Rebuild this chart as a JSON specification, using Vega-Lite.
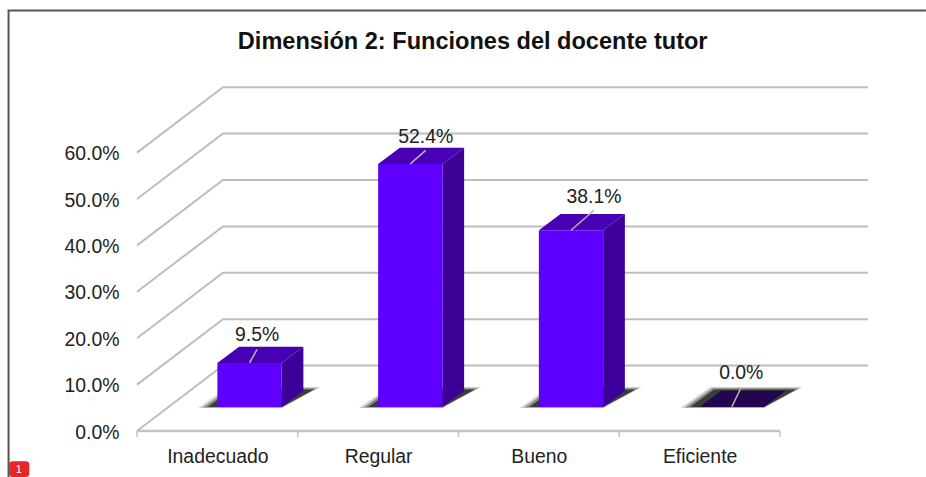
{
"$schema":"https://vega.github.io/schema/vega-lite/v6.json",
"autosize":{"type":"none"},
"padding":{"left":137,"top":87.64,"right":57.6,"bottom":46},
"width":731.4,"height":343.36,
"background":"#ffffff",
"config":{"view":{"stroke":null},"font":"Liberation Sans"},
"title":{"text":"Dimensión 2: Funciones del docente tutor","font":"Liberation Sans","fontSize":23.55,"fontWeight":"bold","color":"#111111","anchor":"middle","frame":"group","dx":-30,"offset":-47},
"datasets":{
"bars":[{"cat":"Inadecuado","i":0,"value":9.5},{"cat":"Regular","i":1,"value":52.4},{"cat":"Bueno","i":2,"value":38.1},{"cat":"Eficiente","i":3,"value":0.0}],
"levels":[{"level":0},{"level":10},{"level":20},{"level":30},{"level":40},{"level":50},{"level":60}],
"ticks":[{"t":0},{"t":1},{"t":2},{"t":3},{"t":4}]
},
"encoding":{
"x":{"field":"x","type":"quantitative","scale":{"domain":[0,4.55],"nice":false,"zero":false},"title":null,
"axis":{"values":[0.5,1.5,2.5,3.5],"labelExpr":"['Inadecuado','Regular','Bueno','Eficiente'][floor(datum.value)]","ticks":false,"domain":false,"grid":false,"labelFontSize":19.4,"labelFont":"Liberation Sans","labelColor":"#222222","labelPadding":16,"title":null}},
"y":{"field":"y","type":"quantitative","scale":{"domain":[0,74],"nice":false,"zero":false},"title":null,
"axis":{"values":[0,10,20,30,40,50,60],"labelExpr":"format(datum.value,'.1f')+'%'","ticks":false,"domain":false,"grid":false,"labelFontSize":19.4,"labelFont":"Liberation Sans","labelColor":"#222222","labelPadding":18,"labelOffset":1,"title":null}}
},
"layer":[
{"data":{"name":"levels"},
 "transform":[{"calculate":"[0,0.535,4.547]","as":"xs"},{"calculate":"[datum.level,datum.level+14.1,datum.level+14.1]","as":"ys"},{"flatten":["xs","ys"],"as":["x","y"]}],
 "mark":{"type":"line","color":"#bdbdbd","strokeWidth":2,"clip":false},
 "encoding":{"detail":{"field":"level"}}},
{"data":{"values":[{"x":0,"y":0},{"x":4,"y":0}]},
 "mark":{"type":"line","color":"#c4c4c4","strokeWidth":2.5,"clip":false}},
{"data":{"name":"ticks"},
 "transform":[{"calculate":"datum.t","as":"x"},{"calculate":"0","as":"y"},{"calculate":"-1.3","as":"y2"}],
 "mark":{"type":"rule","color":"#c4c4c4","strokeWidth":1.5,"clip":false},
 "encoding":{"y2":{"field":"y2"}}},
{"data":{"name":"bars"},
 "transform":[{"calculate":"datum.i+0.5","as":"x0"},
 {"calculate":"[datum.x0-0.118,datum.x0+0.068,datum.x0+0.4,datum.x0+0.64]","as":"xs"},
 {"calculate":"[4.96,4.96,4.96,9.48]","as":"lo"},{"calculate":"[4.96,9.48,9.48,9.48]","as":"hi"},
 {"flatten":["xs","lo","hi"],"as":["x","y","y2"]}],
 "mark":{"type":"area","orient":"vertical","color":"#bbbbbb","opacity":0.7,"clip":false},
 "encoding":{"y2":{"field":"y2"},"detail":{"field":"cat"}}},
{"data":{"name":"bars"},
 "transform":[{"calculate":"datum.i+0.5","as":"x0"},
 {"calculate":"[datum.x0-0.09,datum.x0+0.08,datum.x0+0.4,datum.x0+0.62]","as":"xs"},
 {"calculate":"[5.05,5.05,5.05,9.2]","as":"lo"},{"calculate":"[5.05,9.2,9.2,9.2]","as":"hi"},
 {"flatten":["xs","lo","hi"],"as":["x","y","y2"]}],
 "mark":{"type":"area","orient":"vertical","color":"#777777","opacity":0.8,"clip":false},
 "encoding":{"y2":{"field":"y2"},"detail":{"field":"cat"}}},
{"data":{"name":"bars"},
 "transform":[{"calculate":"datum.i+0.5","as":"x0"},
 {"calculate":"[datum.x0-0.06,datum.x0+0.09,datum.x0+0.4,datum.x0+0.6]","as":"xs"},
 {"calculate":"[5.17,5.17,5.17,8.95]","as":"lo"},{"calculate":"[5.17,8.95,8.95,8.95]","as":"hi"},
 {"flatten":["xs","lo","hi"],"as":["x","y","y2"]}],
 "mark":{"type":"area","orient":"vertical","color":"#333333","opacity":0.9,"clip":false},
 "encoding":{"y2":{"field":"y2"},"detail":{"field":"cat"}}},
{"data":{"name":"bars"},
 "transform":[{"calculate":"datum.i+0.9","as":"x1"},{"calculate":"datum.value+5.17","as":"top"},
 {"calculate":"[datum.x1,datum.x1+0.135]","as":"xs"},{"calculate":"[5.17,8.67]","as":"lo"},{"calculate":"[datum.top,datum.top+3.5]","as":"hi"},
 {"flatten":["xs","lo","hi"],"as":["x","y","y2"]}],
 "mark":{"type":"area","orient":"vertical","color":"#3c0098","clip":false},
 "encoding":{"y2":{"field":"y2"},"detail":{"field":"cat"}}},
{"data":{"name":"bars"},
 "transform":[{"calculate":"datum.i+0.5","as":"x0"},{"calculate":"datum.value+5.17","as":"top"},
 {"calculate":"[datum.x0,datum.x0+0.135,datum.x0+0.4,datum.x0+0.535]","as":"xs"},
 {"calculate":"[datum.top,datum.top,datum.top,datum.top+3.5]","as":"lo"},{"calculate":"[datum.top,datum.top+3.5,datum.top+3.5,datum.top+3.5]","as":"hi"},
 {"flatten":["xs","lo","hi"],"as":["x","y","y2"]}],
 "mark":{"type":"area","orient":"vertical","clip":false},
 "encoding":{"y2":{"field":"y2"},"detail":{"field":"cat"},
 "color":{"field":"cat","type":"nominal","legend":null,"scale":{"domain":["Inadecuado","Regular","Bueno","Eficiente"],"range":["#4800b4","#4800b4","#4800b4","#22064f"]}}}},
{"data":{"name":"bars"},
 "transform":[{"calculate":"datum.i+0.5","as":"x"},{"calculate":"datum.i+0.9","as":"x2"},{"calculate":"5.17","as":"y"},{"calculate":"datum.value+5.17","as":"y2"}],
 "mark":{"type":"rect","color":"#5f00ff","clip":false},
 "encoding":{"x2":{"field":"x2"},"y2":{"field":"y2"}}},
{"data":{"name":"bars"},
 "transform":[{"calculate":"datum.i+0.7","as":"xc"},{"calculate":"datum.value+5.17","as":"top"},
 {"calculate":"[datum.xc,datum.xc+[0.047,0.096,0.143,0.059][datum.i]]","as":"xs"},
 {"calculate":"[datum.top,datum.top+[2.9,2.9,4.3,4.3][datum.i]]","as":"ys"},
 {"flatten":["xs","ys"],"as":["x","y"]}],
 "mark":{"type":"line","color":"#b5b5b5","strokeWidth":1.5,"clip":false},
 "encoding":{"detail":{"field":"cat"}}},
{"data":{"name":"bars"},
 "transform":[{"calculate":"datum.i+0.7+[0.047,0.096,0.143,0.059][datum.i]","as":"x"},
 {"calculate":"datum.value+5.17+[6.03,5.82,7.1,7.3][datum.i]","as":"y"},
 {"calculate":"format(datum.value,'.1f')+'%'","as":"label"}],
 "mark":{"type":"text","font":"Liberation Sans","fontSize":19.4,"color":"#222222","align":"center","baseline":"middle","clip":false},
 "encoding":{"text":{"field":"label"}}},
{"data":{"values":[{"x":4.908,"y":90.6},{"x":-0.799,"y":90.6},{"x":-0.799,"y":-10}]},
 "mark":{"type":"line","color":"#555555","strokeWidth":2,"clip":false},
 "encoding":{"order":{"field":"y","sort":"descending"}}},
{"data":{"values":[{"x":-0.795,"x2":-0.67,"y":-6.5,"y2":-9.9}]},
 "mark":{"type":"rect","color":"#e8262a","cornerRadius":3,"clip":false},
 "encoding":{"x2":{"field":"x2"},"y2":{"field":"y2"}}},
{"data":{"values":[{"x":-0.735,"y":-8.4,"label":"1"}]},
 "mark":{"type":"text","font":"Liberation Sans","fontSize":11,"color":"#ffffff","align":"center","baseline":"middle","clip":false},
 "encoding":{"text":{"field":"label"}}}
]
}
